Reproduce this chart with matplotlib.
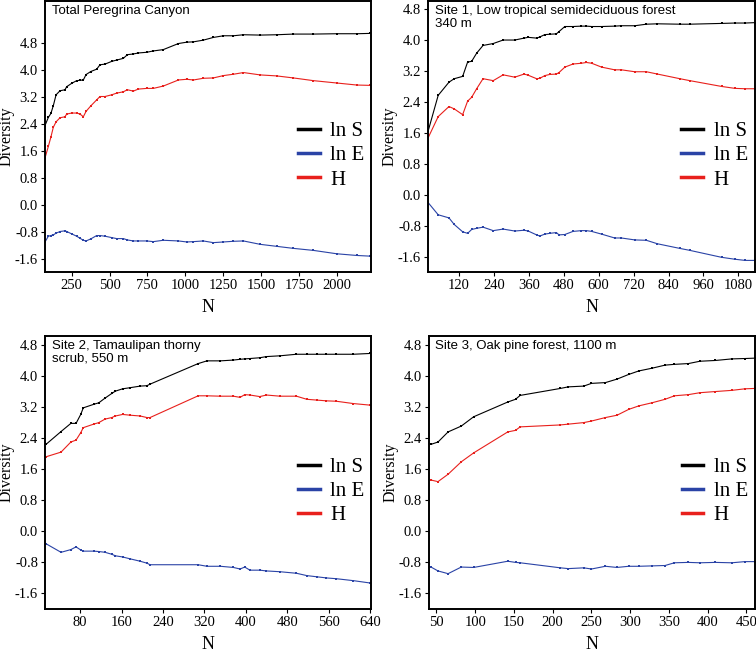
import matplotlib
matplotlib.use("Agg")
import matplotlib.pyplot as plt
from matplotlib.ticker import FormatStrFormatter

plt.rcParams['axes.unicode_minus'] = False

# ---------------- data ----------------
titles = ["Total Peregrina Canyon",
          "Site 1, Low tropical semideciduous forest\n340 m",
          "Site 2, Tamaulipan thorny\nscrub, 550 m",
          "Site 3, Oak pine forest, 1100 m"]
series_labels = ["ln S", "ln E", "H"]

N1 = [74, 96, 113, 129, 147, 173, 206, 217, 250, 283, 305, 327, 345, 376, 415, 437, 470, 514,
      547, 591, 618, 657, 690, 745, 789, 855, 955, 1010, 1054, 1119, 1185, 1252, 1318, 1384,
      1494, 1604, 1714, 1846, 2000, 2132, 2220]
S1 = [2.34, 2.58, 2.70, 2.93, 3.25, 3.37, 3.40, 3.49, 3.59, 3.67, 3.68, 3.69, 3.85, 3.94, 4.01,
      4.14, 4.16, 4.24, 4.28, 4.33, 4.44, 4.46, 4.49, 4.51, 4.55, 4.59, 4.77, 4.81, 4.82, 4.87,
      4.95, 5.00, 5.00, 5.03, 5.02, 5.03, 5.05, 5.05, 5.06, 5.06, 5.07]
H1 = [1.38, 1.72, 2.00, 2.29, 2.45, 2.57, 2.60, 2.68, 2.71, 2.71, 2.68, 2.60, 2.76, 2.92, 3.10,
      3.20, 3.20, 3.25, 3.30, 3.34, 3.40, 3.36, 3.42, 3.44, 3.44, 3.51, 3.69, 3.71, 3.69, 3.74,
      3.75, 3.82, 3.86, 3.91, 3.84, 3.81, 3.75, 3.67, 3.60, 3.54, 3.53]
E1 = [-1.11, -0.94, -0.92, -0.90, -0.85, -0.80, -0.78, -0.80, -0.87, -0.94, -1.00, -1.06, -1.08,
      -1.02, -0.92, -0.92, -0.94, -0.98, -1.01, -1.01, -1.05, -1.08, -1.08, -1.08, -1.10, -1.06,
      -1.08, -1.11, -1.10, -1.08, -1.13, -1.11, -1.09, -1.08, -1.18, -1.24, -1.30, -1.36, -1.46,
      -1.51, -1.53]

N2 = [15, 49, 86, 104, 133, 150, 164, 181, 203, 238, 272, 312, 344, 358, 387, 398, 415, 432, 455,
      464, 484, 512, 541, 558, 576, 610, 655, 678, 724, 764, 802, 879, 913, 1022, 1068, 1103, 1136]
S2 = [1.66, 2.57, 2.91, 3.00, 3.06, 3.43, 3.45, 3.66, 3.86, 3.91, 4.00, 4.00, 4.05, 4.07, 4.05,
      4.08, 4.14, 4.15, 4.16, 4.22, 4.35, 4.35, 4.36, 4.36, 4.35, 4.35, 4.36, 4.37, 4.37, 4.41,
      4.42, 4.41, 4.41, 4.43, 4.44, 4.44, 4.45]
H2 = [1.48, 2.02, 2.28, 2.22, 2.07, 2.42, 2.52, 2.74, 3.00, 2.95, 3.10, 3.04, 3.12, 3.09, 3.00,
      3.01, 3.08, 3.11, 3.12, 3.16, 3.30, 3.38, 3.40, 3.42, 3.40, 3.30, 3.23, 3.23, 3.18, 3.18,
      3.12, 3.00, 2.95, 2.80, 2.75, 2.74, 2.74]
E2 = [-0.21, -0.52, -0.60, -0.77, -0.96, -1.00, -0.90, -0.87, -0.84, -0.93, -0.89, -0.94, -0.92,
      -0.94, -1.04, -1.07, -1.02, -1.00, -0.98, -1.04, -1.03, -0.95, -0.93, -0.93, -0.95, -1.02,
      -1.12, -1.12, -1.17, -1.18, -1.27, -1.39, -1.44, -1.62, -1.67, -1.70, -1.70]

N3 = [14, 43, 62, 72, 81, 86, 106, 116, 128, 141, 148, 162, 177, 196, 209, 215, 308, 325, 351,
      376, 389, 398, 408, 427, 440, 466, 498, 518, 537, 556, 575, 608, 640]
S3 = [2.24, 2.57, 2.78, 2.78, 3.01, 3.18, 3.27, 3.31, 3.43, 3.55, 3.61, 3.67, 3.70, 3.74, 3.75,
      3.79, 4.32, 4.39, 4.39, 4.41, 4.43, 4.44, 4.45, 4.47, 4.50, 4.52, 4.56, 4.56, 4.56, 4.56,
      4.56, 4.56, 4.58]
H3 = [1.92, 2.04, 2.30, 2.35, 2.54, 2.67, 2.76, 2.80, 2.89, 2.93, 2.97, 3.01, 2.99, 2.97, 2.93,
      2.93, 3.49, 3.49, 3.48, 3.48, 3.45, 3.52, 3.51, 3.47, 3.51, 3.48, 3.48, 3.40, 3.38, 3.36,
      3.35, 3.29, 3.25]
E3 = [-0.32, -0.54, -0.47, -0.40, -0.48, -0.51, -0.51, -0.52, -0.54, -0.59, -0.63, -0.66, -0.71,
      -0.77, -0.82, -0.86, -0.86, -0.90, -0.90, -0.93, -0.97, -0.92, -1.00, -1.00, -1.02, -1.04,
      -1.08, -1.14, -1.17, -1.20, -1.22, -1.27, -1.33]

N4 = [43, 52, 65, 82, 98, 142, 152, 158, 210, 220, 240, 250, 268, 283, 298, 311, 328, 345, 357,
      375, 390, 410, 431, 448, 461]
S4 = [2.24, 2.30, 2.56, 2.71, 2.95, 3.33, 3.40, 3.50, 3.68, 3.72, 3.74, 3.81, 3.83, 3.92, 4.04,
      4.13, 4.20, 4.28, 4.30, 4.32, 4.38, 4.40, 4.44, 4.45, 4.46]
H4 = [1.32, 1.28, 1.47, 1.79, 2.02, 2.56, 2.60, 2.69, 2.74, 2.76, 2.80, 2.84, 2.93, 2.99, 3.14,
      3.23, 3.31, 3.40, 3.49, 3.52, 3.57, 3.60, 3.63, 3.67, 3.68]
E4 = [-0.92, -1.02, -1.09, -0.92, -0.93, -0.77, -0.80, -0.81, -0.94, -0.96, -0.94, -0.97, -0.90,
      -0.93, -0.90, -0.90, -0.89, -0.88, -0.81, -0.80, -0.81, -0.80, -0.81, -0.78, -0.78]

x_ticks = [[250, 500, 750, 1000, 1250, 1500, 1750, 2000],
           [120, 240, 360, 480, 600, 720, 840, 960, 1080],
           [80, 160, 240, 320, 400, 480, 560, 640],
           [50, 100, 150, 200, 250, 300, 350, 400, 450]]
y_ticks = [-1.6, -0.8, 0.0, 0.8, 1.6, 2.4, 3.2, 4.0, 4.8]

panels = [(N1, S1, E1, H1), (N2, S2, E2, H2), (N3, S3, E3, H3), (N4, S4, E4, H4)]
xlims = [(74, 2226), (14, 1137), (12, 642), (40, 461)]
ylims = [(-2.0, 6.03), (-2.0, 5.01), (-2.0, 5.03), (-2.0, 5.03)]

# ---------------- layout ----------------
W, Hh = 756, 653
boxes = [(45, 1, 371, 272), (428, 1, 755, 272), (45, 336, 371, 609), (428.7, 336, 755, 609)]
colors = ["#000000", "#2a43a6", "#e8201c"]
serif = ["Liberation Serif", "DejaVu Serif"]
sans = ["Liberation Sans", "DejaVu Sans"]

fig = plt.figure(figsize=(W / 100, Hh / 100), dpi=100)

for i, (n, s, e, h) in enumerate(panels):
    x0, y0, x1, y1 = boxes[i]
    ax = fig.add_axes([x0 / W, 1 - y1 / Hh, (x1 - x0) / W, (y1 - y0) / Hh])
    for vals, c, lab in zip((s, e, h), colors, series_labels):
        ax.plot(n, vals, color=c, lw=0.8, marker='s', ms=1.6, mew=0, label=lab)
    ax.set_xlim(*xlims[i])
    ax.set_ylim(*ylims[i])
    ax.set_xticks(x_ticks[i])
    ax.set_yticks(y_ticks)
    ax.yaxis.set_major_formatter(FormatStrFormatter('%.1f'))
    ax.tick_params(direction='out', length=3, width=0.8, pad=2, labelsize=10.5)
    for lbl in ax.get_xticklabels() + ax.get_yticklabels():
        lbl.set_family(serif)
    for sp in ax.spines.values():
        sp.set_linewidth(1.4)
    ax.set_xlabel("N", family=serif, fontsize=13, labelpad=5)
    ax.set_ylabel("Diversity", family=serif, fontsize=11.5, labelpad=0)
    ax.text(0.02, 0.985, titles[i], transform=ax.transAxes, va='top', ha='left',
            family=sans, fontsize=9.5, linespacing=1.1)
    leg = ax.legend(loc='upper left', bbox_to_anchor=(0.775, 0.555), frameon=False,
                    prop={'family': serif, 'size': 15}, handlelength=1.05,
                    handletextpad=0.5, labelspacing=0.22, borderaxespad=0, borderpad=0)
    for lh in leg.get_lines():
        lh.set_linewidth(2.5)
        lh.set_marker('')

fig.savefig("out.png", dpi=100)
